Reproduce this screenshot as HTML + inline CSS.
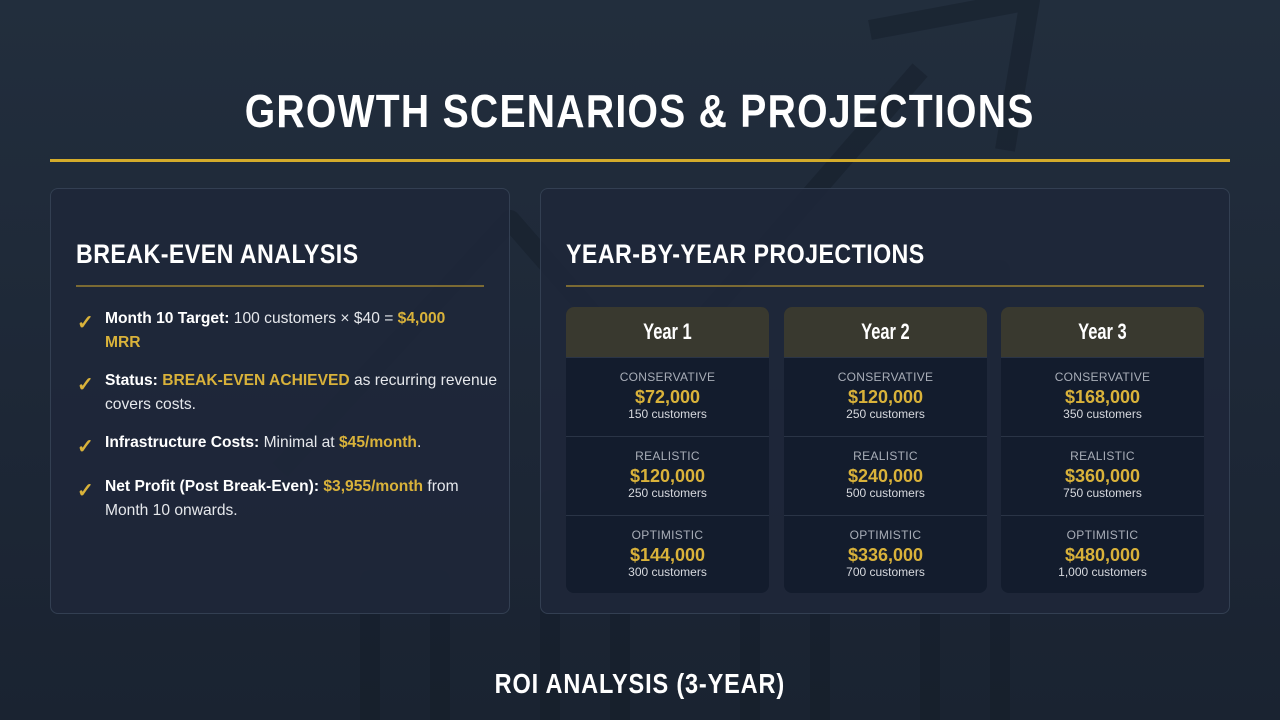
<!DOCTYPE html>
<html><head><meta charset="utf-8"><style>
*{margin:0;padding:0;box-sizing:border-box}
body{width:1280px;height:720px;overflow:hidden;background:linear-gradient(180deg,#222e3d 0%,#1d2736 60%,#1a2331 100%);font-family:"Liberation Sans",sans-serif;color:#fff;position:relative}
.title{position:absolute;left:0;top:84px;width:1280px;text-align:center;height:52px}
.title span{font-size:46px;transform:scaleX(0.85);transform-origin:center;letter-spacing:1.5px;display:inline-block;font-weight:bold}
.rule{position:absolute;left:50px;top:159px;width:1180px;height:3px;background:#d4ac2b}
.panel{position:absolute;top:188px;height:426px;background:rgba(30,39,58,0.85);border:1px solid #333f52;border-radius:8px}
.ph{position:absolute;left:25px;top:50px;font-size:27px;font-weight:bold;transform:scaleX(0.86);transform-origin:left;white-space:nowrap;letter-spacing:.5px}
.pr{position:absolute;left:25px;top:96px;height:2px;background:#7b6a33}
.li{position:absolute;left:54px;width:400px;font-size:15.6px;line-height:24px;color:#e6e8ec;white-space:nowrap}
.li b{color:#fff}.y{color:#d9b23a;font-weight:bold}
.ck{position:absolute;left:-28px;top:4px;color:#d9b23a;font-size:20px;font-weight:bold}
.card{position:absolute;top:118px;width:203px;height:286px;background:#131c2d;border-radius:8px;overflow:hidden}
.ch{height:50px;background:#39392f;text-align:center;line-height:50px}
.ch span{font-size:22px;font-weight:bold;transform:scaleX(0.75);display:inline-block}
.row{height:79px;text-align:center;border-top:1px solid #2a3446;padding-top:12px}
.row:first-of-type{border-top:none}
.lab{font-size:12px;color:#a9aeb8;letter-spacing:.3px}
.val{font-size:18px;font-weight:bold;color:#d9b23a;margin-top:3px;line-height:20px}
.cu{font-size:12px;color:#d7d9de}
.foot{position:absolute;top:668px;left:0;width:1280px;text-align:center}
.foot span{font-size:28px;font-weight:bold;transform:scaleX(0.84);display:inline-block;letter-spacing:1px}
</style></head><body>
<svg style="position:absolute;left:0;top:0" width="1280" height="720">
<g fill="none" stroke="#141d29" stroke-opacity="0.45" stroke-width="20" stroke-linejoin="round">
<polyline points="280,470 510,220 650,380 920,70"/>
<polyline points="870,30 1030,0 1005,150"/>
<rect x="370" y="580" width="70" height="160"/>
<rect x="550" y="500" width="70" height="240"/>
<rect x="750" y="400" width="70" height="340"/>
<rect x="930" y="270" width="70" height="470"/>
</g></svg>
<div class="title"><span>GROWTH SCENARIOS &amp; PROJECTIONS</span></div>
<div class="rule"></div>

<div class="panel" style="left:50px;width:460px">
<div class="ph">BREAK-EVEN ANALYSIS</div>
<div class="pr" style="width:408px"></div>
<div class="li" style="top:118px"><span class="ck">✓</span><b>Month 10 Target:</b> 100 customers × $40 = <span class="y">$4,000<br>MRR</span></div>
<div class="li" style="top:180px"><span class="ck">✓</span><b>Status:</b> <span class="y">BREAK-EVEN ACHIEVED</span> as recurring revenue<br>covers costs.</div>
<div class="li" style="top:242px"><span class="ck">✓</span><b>Infrastructure Costs:</b> Minimal at <span class="y">$45/month</span>.</div>
<div class="li" style="top:286px"><span class="ck">✓</span><b>Net Profit (Post Break-Even):</b> <span class="y">$3,955/month</span> from<br>Month 10 onwards.</div>
</div>

<div class="panel" style="left:540px;width:690px">
<div class="ph">YEAR-BY-YEAR PROJECTIONS</div>
<div class="pr" style="width:638px"></div>
<div id="cards"></div>
</div>

<div class="foot"><span>ROI ANALYSIS (3-YEAR)</span></div>
<script>
const years=["Year 1","Year 2","Year 3"];
const scenarios=["CONSERVATIVE","REALISTIC","OPTIMISTIC"];
const revenue=[[72000,120000,144000],[120000,240000,336000],[168000,360000,480000]];
const customers=[[150,250,300],[250,500,700],[350,750,1000]];
const lefts=[25,243,460];
const host=document.getElementById('cards');
years.forEach((y,i)=>{
 const c=document.createElement('div');c.className='card';c.style.left=lefts[i]+'px';
 
 
 let h='<div class="ch"><span>'+y+'</span></div>';
 scenarios.forEach((s,j)=>{
  h+='<div class="row"><div class="lab">'+s+'</div><div class="val">$'+revenue[i][j].toLocaleString('en-US')+'</div><div class="cu">'+customers[i][j].toLocaleString('en-US')+' customers</div></div>';
 });
 c.innerHTML=h;host.appendChild(c);
});
</script>
</body></html>
